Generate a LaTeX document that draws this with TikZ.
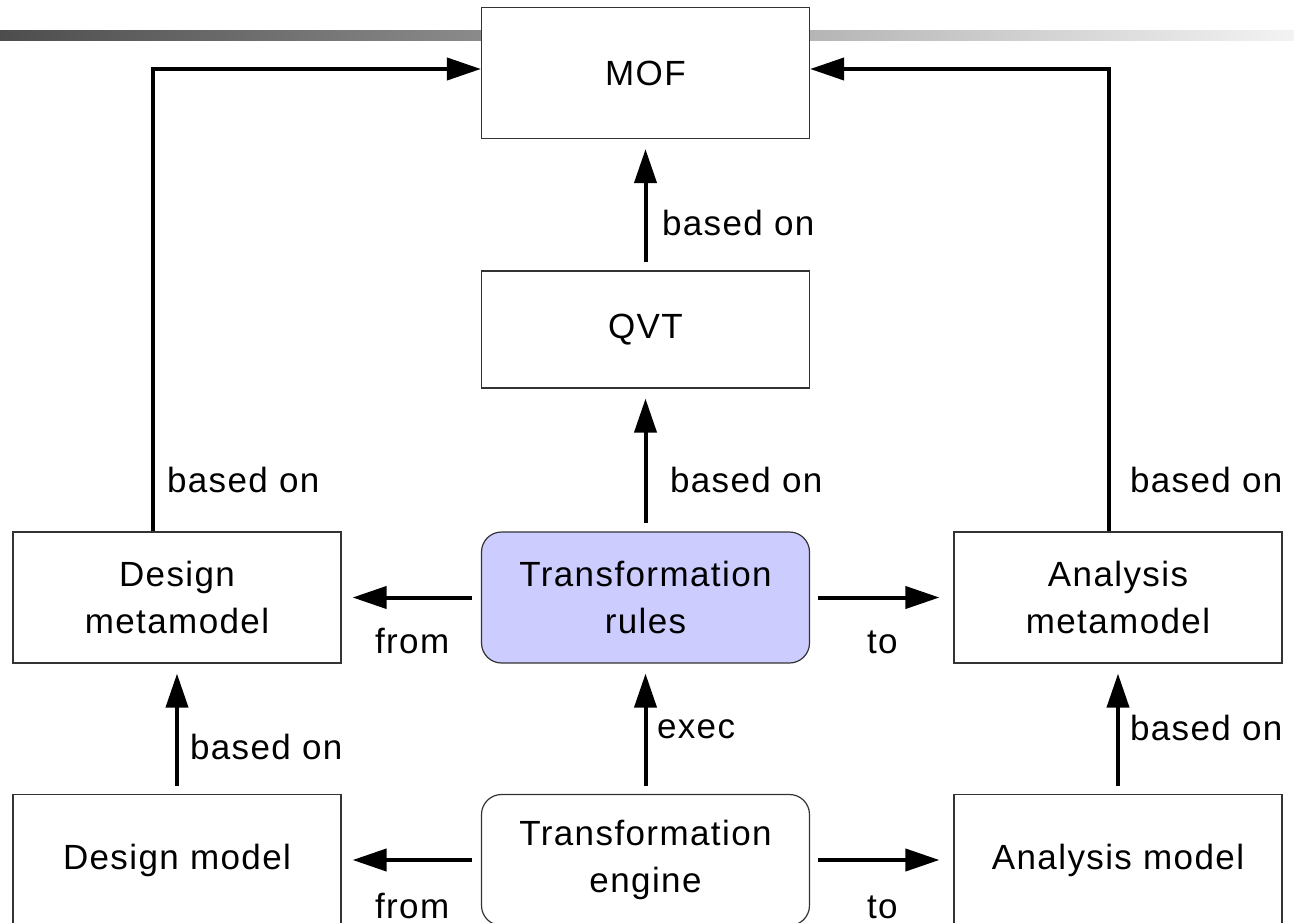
\documentclass[tikz,border=0pt]{standalone}
\usepackage{fontspec}
\setmainfont{Liberation Sans}[LetterSpace=4]
\usetikzlibrary{arrows.meta}

\tikzset{
  txt/.style={font=\fontsize{35}{47}\selectfont},
  box/.style={txt, draw=black!80, line width=1.2pt, fill=white,
    minimum width=328pt, minimum height=131pt, inner sep=0pt, align=center},
  rbox/.style={box, rounded corners=20pt},
  conn/.style={line width=4pt, -{Triangle[length=34pt,width=22pt]}},
  lbl/.style={txt, inner sep=0pt, anchor=base west},
}

\begin{document}
\begin{tikzpicture}[x=1pt, y=-1pt]
  \useasboundingbox (0,0) rectangle (1294,923);

  % header band
  \shade[left color={rgb,255:red,77;green,77;blue,77},
         middle color={rgb,255:red,185;green,185;blue,185},
         right color={rgb,255:red,243;green,243;blue,243}]
    (0,31) rectangle (1294,41);

  % boxes
  \node[box] (mof) at (645.5,73) {MOF};
  \node[box, minimum height=117pt] (qvt) at (645.5,329.5) {QVT};
  \node[box] (dmm) at (177,597.5) {Design\\metamodel};
  \node[rbox, fill={rgb,255:red,204;green,204;blue,255}] (rules) at (645.5,597.5) {Transformation\\rules};
  \node[box] (amm) at (1118,597.5) {Analysis\\metamodel};
  \node[box] (dmod) at (177,860) {Design model};
  \node[rbox] (eng) at (645.5,860) {Transformation\\engine};
  \node[box] (amod) at (1118,860) {Analysis model};

  % connectors
  \draw[conn] ([xshift=-24pt]dmm.north) |- ([yshift=4pt]mof.west)
    node[lbl] at (165,492) {based on};
  \draw[conn] ([xshift=-9pt]amm.north) |- ([yshift=4pt]mof.east)
    node[lbl] at (1128,492) {based on};
  \draw[conn] ([yshift=8pt]qvt.north) -- ([yshift=-10pt]mof.south)
    node[lbl] at (660,235) {based on};
  \draw[conn] ([yshift=8pt]rules.north) -- ([yshift=-10pt]qvt.south)
    node[lbl] at (668,492) {based on};
  \draw[conn] ([xshift=-9pt]rules.west) -- ([xshift=11pt]dmm.east)
    node[lbl] at (373,653) {from};
  \draw[conn] ([xshift=8pt]rules.east) -- ([xshift=-14pt]amm.west)
    node[lbl] at (865,653) {to};
  \draw[conn] ([yshift=8pt]eng.north) -- ([yshift=-10pt]rules.south)
    node[lbl] at (655,738) {exec};
  \draw[conn] ([yshift=8pt]dmod.north) -- ([yshift=-10pt]dmm.south)
    node[lbl] at (188,759) {based on};
  \draw[conn] ([yshift=8pt]amod.north) -- ([yshift=-10pt]amm.south)
    node[lbl] at (1128,740) {based on};
  \draw[conn] ([xshift=-9pt]eng.west) -- ([xshift=11pt]dmod.east)
    node[lbl] at (373,918) {from};
  \draw[conn] ([xshift=8pt]eng.east) -- ([xshift=-14pt]amod.west)
    node[lbl] at (865,918) {to};
\end{tikzpicture}
\end{document}
